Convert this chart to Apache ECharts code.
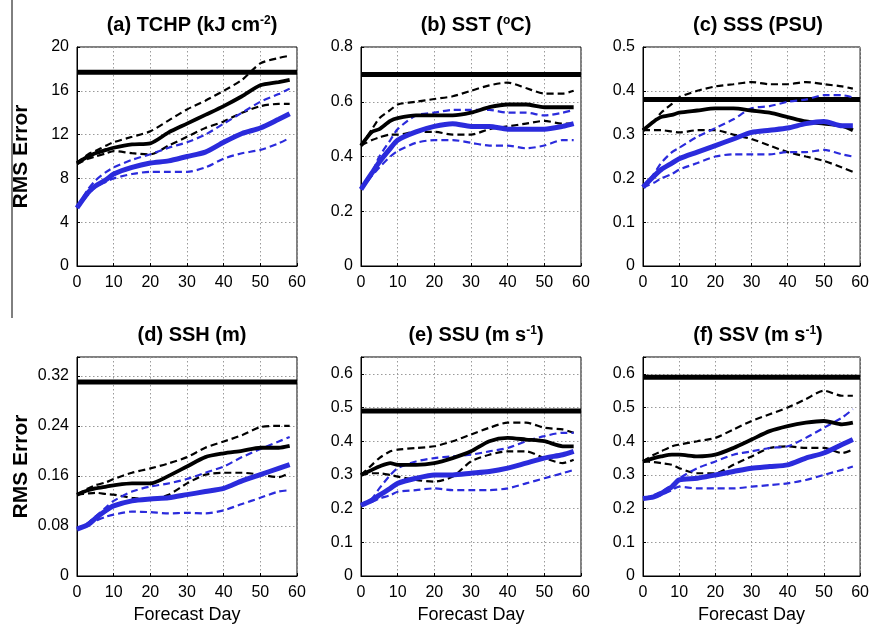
<!DOCTYPE html>
<html>
<head>
<meta charset="utf-8">
<script src="https://cdn.jsdelivr.net/npm/echarts@6/dist/echarts.min.js"></script>
<style>html,body{margin:0;padding:0;background:#fff}#c{width:872px;height:629px}</style>
</head>
<body>
<div id="c"></div>
<script>
// ---- data ----
const days = [0, 3, 5, 8, 10, 15, 20, 25, 30, 35, 40, 45, 50, 55, 58];
const xTicks = ['0', '10', '20', '30', '40', '50', '60'];

// (a) TCHP
const aRef = 17.7;
const aBlk   = [9.4, 10.0, 10.3, 10.6, 10.8, 11.1, 11.2, 12.2, 13.0, 13.8, 14.6, 15.5, 16.5, 16.8, 17.0];
const aBlkHi = [9.4, 10.2, 10.5, 11.0, 11.3, 11.8, 12.3, 13.3, 14.3, 15.1, 16.0, 17.0, 18.5, 19.0, 19.2];
const aBlkLo = [9.3, 9.8, 10.0, 10.3, 10.5, 10.3, 10.2, 11.0, 11.8, 12.6, 13.2, 14.0, 14.6, 14.8, 14.8];
const aBlu   = [5.3, 6.7, 7.3, 7.9, 8.4, 9.0, 9.4, 9.6, 10.0, 10.4, 11.3, 12.1, 12.6, 13.4, 13.9];
const aBluHi = [5.4, 7.0, 7.8, 8.6, 9.0, 9.7, 10.2, 10.8, 11.3, 12.0, 13.0, 14.0, 15.0, 15.7, 16.2];
const aBluLo = [5.3, 6.5, 7.2, 7.7, 8.0, 8.4, 8.6, 8.6, 8.6, 9.0, 9.8, 10.3, 10.6, 11.2, 11.7];
const aTicks = ['0', '4', '8', '12', '16', '20'];

// (b) SST
const bRef = 0.70;
const bBlk   = [0.44, 0.49, 0.50, 0.53, 0.54, 0.55, 0.55, 0.55, 0.56, 0.58, 0.59, 0.59, 0.58, 0.58, 0.58];
const bBlkHi = [0.44, 0.50, 0.54, 0.57, 0.59, 0.60, 0.61, 0.62, 0.64, 0.66, 0.67, 0.65, 0.63, 0.63, 0.64];
const bBlkLo = [0.44, 0.46, 0.47, 0.48, 0.48, 0.49, 0.49, 0.48, 0.48, 0.50, 0.51, 0.52, 0.53, 0.52, 0.52];
const bBlu   = [0.28, 0.34, 0.38, 0.43, 0.46, 0.49, 0.51, 0.52, 0.51, 0.51, 0.50, 0.50, 0.50, 0.51, 0.52];
const bBluHi = [0.28, 0.34, 0.40, 0.46, 0.50, 0.55, 0.56, 0.57, 0.57, 0.57, 0.56, 0.56, 0.55, 0.56, 0.57];
const bBluLo = [0.28, 0.33, 0.36, 0.40, 0.42, 0.45, 0.46, 0.46, 0.45, 0.44, 0.44, 0.43, 0.44, 0.46, 0.46];
const bTicks = ['0', '0.2', '0.4', '0.6', '0.8'];

// (c) SSS
const cRef = 0.38;
const cBlk   = [0.31, 0.33, 0.34, 0.345, 0.35, 0.355, 0.36, 0.36, 0.355, 0.35, 0.34, 0.33, 0.325, 0.32, 0.31];
const cBlkHi = [0.31, 0.33, 0.35, 0.37, 0.385, 0.40, 0.41, 0.415, 0.42, 0.415, 0.415, 0.42, 0.415, 0.41, 0.405];
const cBlkLo = [0.31, 0.31, 0.31, 0.307, 0.305, 0.31, 0.31, 0.30, 0.29, 0.275, 0.26, 0.25, 0.24, 0.225, 0.215];
const cBlu   = [0.18, 0.205, 0.22, 0.235, 0.245, 0.26, 0.275, 0.29, 0.305, 0.31, 0.315, 0.325, 0.33, 0.32, 0.32];
const cBluHi = [0.18, 0.21, 0.235, 0.26, 0.27, 0.295, 0.315, 0.335, 0.36, 0.365, 0.375, 0.38, 0.39, 0.39, 0.385];
const cBluLo = [0.18, 0.19, 0.20, 0.21, 0.22, 0.235, 0.25, 0.255, 0.255, 0.255, 0.26, 0.26, 0.265, 0.255, 0.25];
const cTicks = ['0', '0.1', '0.2', '0.3', '0.4', '0.5'];

// (d) SSH
const dRef = 0.31;
const dBlk   = [0.13, 0.137, 0.14, 0.143, 0.145, 0.148, 0.148, 0.16, 0.175, 0.19, 0.196, 0.20, 0.205, 0.205, 0.208];
const dBlkHi = [0.13, 0.14, 0.145, 0.15, 0.155, 0.165, 0.172, 0.18, 0.19, 0.205, 0.215, 0.225, 0.238, 0.24, 0.24];
const dBlkLo = [0.13, 0.132, 0.133, 0.131, 0.13, 0.125, 0.122, 0.13, 0.148, 0.162, 0.165, 0.165, 0.162, 0.158, 0.165];
const dBlu   = [0.075, 0.082, 0.092, 0.105, 0.112, 0.12, 0.123, 0.125, 0.13, 0.135, 0.14, 0.152, 0.162, 0.172, 0.178];
const dBluHi = [0.075, 0.085, 0.095, 0.11, 0.12, 0.135, 0.143, 0.148, 0.155, 0.165, 0.175, 0.19, 0.203, 0.215, 0.222];
const dBluLo = [0.075, 0.083, 0.088, 0.095, 0.098, 0.103, 0.102, 0.10, 0.101, 0.10, 0.105, 0.115, 0.125, 0.135, 0.137];
const dTicks = ['0', '0.08', '0.16', '0.24', '0.32'];

// (e) SSU
const eRef = 0.49;
const eBlk   = [0.30, 0.315, 0.325, 0.335, 0.33, 0.33, 0.335, 0.35, 0.37, 0.40, 0.41, 0.405, 0.40, 0.385, 0.385];
const eBlkHi = [0.30, 0.33, 0.35, 0.37, 0.375, 0.38, 0.385, 0.40, 0.42, 0.44, 0.455, 0.455, 0.44, 0.435, 0.425];
const eBlkLo = [0.30, 0.305, 0.305, 0.30, 0.295, 0.285, 0.28, 0.295, 0.34, 0.36, 0.37, 0.37, 0.35, 0.335, 0.345];
const eBlu   = [0.21, 0.225, 0.24, 0.26, 0.275, 0.29, 0.30, 0.30, 0.305, 0.31, 0.32, 0.335, 0.35, 0.36, 0.37];
const eBluHi = [0.21, 0.23, 0.26, 0.30, 0.32, 0.34, 0.35, 0.355, 0.36, 0.37, 0.38, 0.40, 0.415, 0.425, 0.425];
const eBluLo = [0.21, 0.22, 0.23, 0.24, 0.25, 0.255, 0.26, 0.255, 0.255, 0.255, 0.26, 0.275, 0.29, 0.305, 0.315];
const eTicks = ['0', '0.1', '0.2', '0.3', '0.4', '0.5', '0.6'];

// (f) SSV
const fRef = 0.59;
const fBlk   = [0.34, 0.35, 0.355, 0.36, 0.36, 0.355, 0.36, 0.38, 0.405, 0.43, 0.445, 0.455, 0.46, 0.45, 0.455];
const fBlkHi = [0.34, 0.36, 0.37, 0.385, 0.39, 0.40, 0.41, 0.435, 0.46, 0.48, 0.50, 0.525, 0.55, 0.535, 0.535];
const fBlkLo = [0.34, 0.338, 0.335, 0.33, 0.32, 0.305, 0.305, 0.33, 0.355, 0.38, 0.385, 0.38, 0.38, 0.365, 0.375];
const fBlu   = [0.23, 0.235, 0.245, 0.265, 0.285, 0.29, 0.30, 0.31, 0.32, 0.325, 0.33, 0.35, 0.365, 0.39, 0.405];
const fBluHi = [0.23, 0.24, 0.25, 0.27, 0.29, 0.32, 0.34, 0.36, 0.37, 0.38, 0.385, 0.41, 0.44, 0.47, 0.495];
const fBluLo = [0.23, 0.235, 0.24, 0.255, 0.265, 0.26, 0.26, 0.26, 0.265, 0.27, 0.275, 0.285, 0.30, 0.315, 0.325];
const fTicks = ['0', '0.1', '0.2', '0.3', '0.4', '0.5', '0.6'];

const titles = ['(a) TCHP (kJ cm{sup|-2})', '(b) SST ({sup|o}C)', '(c) SSS (PSU)',
                '(d) SSH (m)', '(e) SSU (m s{sup|-1})', '(f) SSV (m s{sup|-1})'];

// ---- layout / build ----
const FONT = 'Liberation Sans, Arial, Helvetica, sans-serif';
const BLUE = '#2b2bdc';
const lefts = [77, 361, 643], tops = [47, 357];
const GW = 220, GH = 219;

const panels = [
  {ref: aRef, blk: aBlk, hi: aBlkHi, lo: aBlkLo, blu: aBlu, bhi: aBluHi, blo: aBluLo, ticks: aTicks, max: 20, step: 4},
  {ref: bRef, blk: bBlk, hi: bBlkHi, lo: bBlkLo, blu: bBlu, bhi: bBluHi, blo: bBluLo, ticks: bTicks, max: 0.8, step: 0.2},
  {ref: cRef, blk: cBlk, hi: cBlkHi, lo: cBlkLo, blu: cBlu, bhi: cBluHi, blo: cBluLo, ticks: cTicks, max: 0.5, step: 0.1},
  {ref: dRef, blk: dBlk, hi: dBlkHi, lo: dBlkLo, blu: dBlu, bhi: dBluHi, blo: dBluLo, ticks: dTicks, max: 0.35, step: 0.08},
  {ref: eRef, blk: eBlk, hi: eBlkHi, lo: eBlkLo, blu: eBlu, bhi: eBluHi, blo: eBluLo, ticks: eTicks, max: 0.65, step: 0.1},
  {ref: fRef, blk: fBlk, hi: fBlkHi, lo: fBlkLo, blu: fBlu, bhi: fBluHi, blo: fBluLo, ticks: fTicks, max: 0.65, step: 0.1}
];

const pair = arr => days.map((d, i) => [d, arr[i]]);
const grid = [], xAxis = [], yAxis = [], series = [], title = [];

panels.forEach((p, i) => {
  const col = i % 3, row = Math.floor(i / 3);
  const L = lefts[col], T = tops[row];
  grid.push({left: L, top: T, width: GW, height: GH, show: true, borderColor: '#000', borderWidth: 1, backgroundColor: '#fff'});
  title.push({
    text: titles[i], left: L + GW / 2, top: T - 37, textAlign: 'center',
    textStyle: {fontFamily: FONT, fontSize: 20, fontWeight: 'bold', color: '#000',
      rich: {sup: {fontFamily: FONT, fontSize: 12, fontWeight: 'bold', color: '#000', verticalAlign: 'top', lineHeight: 12}}}
  });
  const splitLine = {show: true, lineStyle: {type: [1.5, 2.5], color: '#9a9a9a', width: 1}};
  xAxis.push({
    type: 'value', gridIndex: i, min: 0, max: 60, interval: 10,
    axisLine: {show: true, onZero: false, lineStyle: {color: '#000'}},
    axisTick: {show: true, inside: true, length: 3, lineStyle: {color: '#000'}},
    axisLabel: {fontFamily: FONT, fontSize: 16, color: '#000', margin: 9,
      formatter: v => { const s = String(Math.round(v)); return xTicks.indexOf(s) >= 0 ? s : ''; }},
    splitLine,
    name: row === 1 ? 'Forecast Day' : '', nameLocation: 'middle', nameGap: 30,
    nameTextStyle: {fontFamily: FONT, fontSize: 18, color: '#000'}
  });
  yAxis.push({
    type: 'value', gridIndex: i, min: 0, max: p.max, interval: p.step,
    axisLine: {show: true, onZero: false, lineStyle: {color: '#000'}},
    axisTick: {show: true, inside: true, length: 3, lineStyle: {color: '#000'}},
    axisLabel: {fontFamily: FONT, fontSize: 16, color: '#000', margin: 8,
      formatter: v => { const t = p.ticks.find(s => Math.abs(parseFloat(s) - v) < 1e-7); return t === undefined ? '' : t; }},
    splitLine,
    name: col === 0 ? 'RMS Error' : '', nameLocation: 'middle', nameGap: 45,
    nameTextStyle: {fontFamily: FONT, fontSize: 21, fontWeight: 'bold', color: '#000'}
  });
  const base = {type: 'line', xAxisIndex: i, yAxisIndex: i, showSymbol: false, symbol: 'none', smooth: 0.25, silent: true, animation: false};
  const dash = [7, 4];
  series.push(Object.assign({}, base, {data: [[0, p.ref], [60, p.ref]], smooth: false, lineStyle: {color: '#000', width: 5}, z: 2}));
  series.push(Object.assign({}, base, {data: pair(p.hi), lineStyle: {color: '#000', width: 2.2, type: dash}, z: 3}));
  series.push(Object.assign({}, base, {data: pair(p.lo), lineStyle: {color: '#000', width: 2.2, type: dash}, z: 3}));
  series.push(Object.assign({}, base, {data: pair(p.bhi), lineStyle: {color: BLUE, width: 2.2, type: dash}, z: 4}));
  series.push(Object.assign({}, base, {data: pair(p.blo), lineStyle: {color: BLUE, width: 2.2, type: dash}, z: 4}));
  series.push(Object.assign({}, base, {data: pair(p.blk), lineStyle: {color: '#000', width: 3.8}, z: 5}));
  series.push(Object.assign({}, base, {data: pair(p.blu), lineStyle: {color: BLUE, width: 5}, z: 6}));
});

const chart = echarts.init(document.getElementById('c'), null, {renderer: 'canvas'});
chart.setOption({
  animation: false,
  backgroundColor: '#fff',
  title, grid, xAxis, yAxis, series,
  graphic: [{type: 'line', shape: {x1: 12, y1: 0, x2: 12, y2: 318}, style: {stroke: '#000', lineWidth: 1}}]
});
</script>
</body>
</html>
